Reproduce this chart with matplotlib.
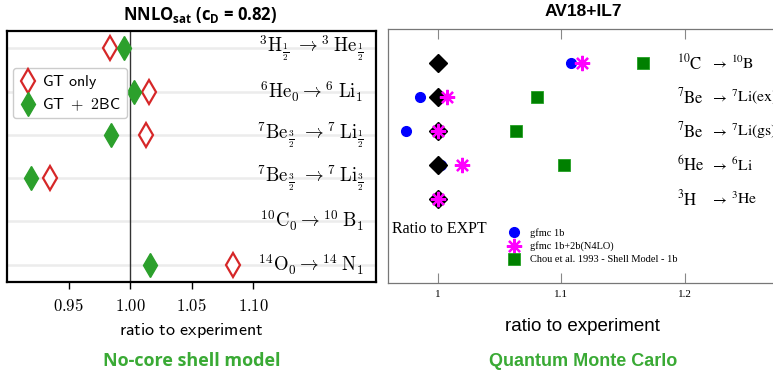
import numpy as np
import matplotlib
matplotlib.use("Agg")
import matplotlib.pyplot as plt

# --- left panel: NNLOsat, ratio to experiment ---
ncsm_labels = [r'$^{3}\mathrm{H}_{\frac{1}{2}}\ \rightarrow^{3}\;\mathrm{He}_{\frac{1}{2}}$',
               r'$^{6}\mathrm{He}_{0}\rightarrow^{6}\;\mathrm{Li}_{1}$',
               r'$^{7}\mathrm{Be}_{\frac{3}{2}}\ \rightarrow^{7}\;\mathrm{Li}_{\frac{1}{2}}$',
               r'$^{7}\mathrm{Be}_{\frac{3}{2}}\ \rightarrow^{7}\;\mathrm{Li}_{\frac{3}{2}}$',
               r'$^{10}\mathrm{C}_{0}\rightarrow^{10}\;\mathrm{B}_{1}$',
               r'$^{14}\mathrm{O}_{0}\rightarrow^{14}\;\mathrm{N}_{1}$']
gt_only = [0.984, 1.0157, 1.0128, 0.9347, np.nan, 1.0838]
gt_2bc = [0.995, 1.003, 0.9847, 0.9198, np.nan, 1.0166]
ncsm_ticks = [0.95, 1.00, 1.05, 1.10]

# --- right panel: AV18+IL7 ---
qmc_parent = [r'$^{10}\mathrm{C}$', r'$^{7}\mathrm{Be}$', r'$^{7}\mathrm{Be}$',
              r'$^{6}\mathrm{He}$', r'$^{3}\mathrm{H}$']
qmc_daughter = [r'$^{10}\mathrm{B}$', r'$^{7}\mathrm{Li(ex)}$', r'$^{7}\mathrm{Li(gs)}$',
                r'$^{6}\mathrm{Li}$', r'$^{3}\mathrm{He}$']
expt = [1.0, 1.0, 1.0, 1.0, 1.0]
gfmc_1b = [1.108, 0.986, 0.9744, 1.003, 1.0]
gfmc_2b = [1.117, 1.008, 1.0, 1.020, 1.0]
chou_sm = [1.166, 1.080, 1.063, 1.102, np.nan]
qmc_ticks = [1.0, 1.1, 1.2]
qmc_ticklabels = ['1', '1.1', '1.2']

RED = '#d62728'
GREEN = '#2ca02c'
TXTGREEN = '#3aaa35'

fig = plt.figure(figsize=(7.73, 3.7), dpi=100)
W, H = 773., 370.

def px_axes(l, t, r, b):
    return fig.add_axes([l / W, 1 - b / H, (r - l) / W, (b - t) / H])

# ---------------- left
ax = px_axes(7, 31, 376, 282)
rows = np.arange(len(ncsm_labels))
for y in rows:
    ax.axhline(y, color='#ececec', lw=1.8, zorder=0)
ax.axvline(1.0, color='#333333', lw=1.0, zorder=1)
ax.plot(gt_only, rows, ls='none', marker='d', ms=12, mfc='white', mec=RED, mew=1.6,
        label=r'$\mathsf{GT\ only}$', zorder=3)
ax.plot(gt_2bc, rows, ls='none', marker='d', ms=12, mfc=GREEN, mec=GREEN,
        label=r'$\mathsf{GT\ +\ 2BC}$', zorder=3)
for y, lab in zip(rows, ncsm_labels):
    ax.text(1.19, y, lab, ha='right', va='center', fontsize=13.5, math_fontfamily='cm')
ax.set_xlim(0.90, 1.20)
ax.set_ylim(5.4, -0.4)
ax.set_yticks([])
ax.set_xticks(ncsm_ticks)
ax.set_xticklabels(['$%.2f$' % v for v in ncsm_ticks], fontsize=12, math_fontfamily='cm')
ax.tick_params(axis='x', direction='out', length=5, width=1, pad=6)
for s in ax.spines.values():
    s.set_linewidth(1.6)
ax.set_xlabel(r'$\mathsf{ratio\ to\ experiment}$', fontsize=13, labelpad=4, math_fontfamily='cm')
leg = ax.legend(loc='upper left', bbox_to_anchor=(0.016, 0.853), borderaxespad=0,
                prop={'math_fontfamily': 'cm', 'size': 11.5},
                handletextpad=0.3, handlelength=1.2, borderpad=0.35, labelspacing=0.3,
                framealpha=1, edgecolor='#cccccc', fancybox=True)
fig.text(200 / W, 1 - 15 / H, r'NNLO$_\mathregular{sat}$ (c$_\mathregular{D}$ = 0.82)',
         ha='center', va='center', fontsize=12, fontweight='bold', family='Open Sans')
fig.text(192 / W, 1 - 361 / H, 'No-core shell model', ha='center', va='center',
         fontsize=13, fontweight='bold', color=TXTGREEN, family='Open Sans')

# ---------------- right
ax2 = px_axes(388, 29, 776, 283)
qrows = np.arange(len(qmc_parent), 0, -1)
ax2.plot(gfmc_1b, qrows, ls='none', marker='o', ms=7, color='blue', zorder=2,
         label='gfmc 1b')
ax2.plot(expt, qrows, ls='none', marker='D', ms=9, color='black', zorder=3)
ax2.plot(gfmc_2b, qrows, ls='none', marker=(8, 2, 0), ms=11, mew=1.6, color='magenta',
         zorder=4, label='gfmc 1b+2b(N4LO)')
ax2.plot(chou_sm, qrows, ls='none', marker='s', ms=8, color='#008000', mec='#22a022',
         mew=0.6, zorder=2, label='Chou et al. 1993 - Shell Model - 1b')
# label columns: parent | arrow | daughter (x in data units)
for y, p, d in zip(qrows, qmc_parent, qmc_daughter):
    ax2.text(1.1937, y, p, ha='left', va='center', fontsize=12, math_fontfamily='stix')
    ax2.text(1.2200, y, r'$\rightarrow$', ha='left', va='center', fontsize=11,
             math_fontfamily='stix')
    ax2.text(1.2367, y, d, ha='left', va='center', fontsize=11.3, math_fontfamily='stix')
ax2.set_xlim(0.96, 1.2734)
ax2.set_ylim(-1.47, 6.0)
ax2.set_yticks([])
ax2.set_xticks(qmc_ticks)
ax2.set_xticklabels(qmc_ticklabels, fontsize=8, family='Liberation Serif')
ax2.tick_params(axis='x', direction='in', length=7, width=0.8, top=True, pad=5,
                color='#888888')
for s in ax2.spines.values():
    s.set_color('#777777')
    s.set_linewidth(0.9)
ax2.text(0.9636, 0.12, 'Ratio to EXPT', ha='left', va='center', fontsize=11.5,
         family='Liberation Serif')
leg2 = ax2.legend(loc='upper left', bbox_to_anchor=((504 - 388) / 388., (283 - 224) / 254.),
                  borderaxespad=0, frameon=False, prop={'family': 'Liberation Serif', 'size': 7.5},
                  handletextpad=0.9, handlelength=1.2, labelspacing=0.35)
ax2.set_xlabel('ratio to experiment', fontsize=13.5, family='Liberation Sans', labelpad=14)
fig.text(583 / W, 1 - 12 / H, 'AV18+IL7', ha='center', va='center', fontsize=12.5,
         fontweight='bold', family='Liberation Sans')
fig.text(583 / W, 1 - 361 / H, 'Quantum Monte Carlo', ha='center', va='center',
         fontsize=13, fontweight='bold', color=TXTGREEN, family='Liberation Sans')

fig.savefig('out.png', dpi=100)
